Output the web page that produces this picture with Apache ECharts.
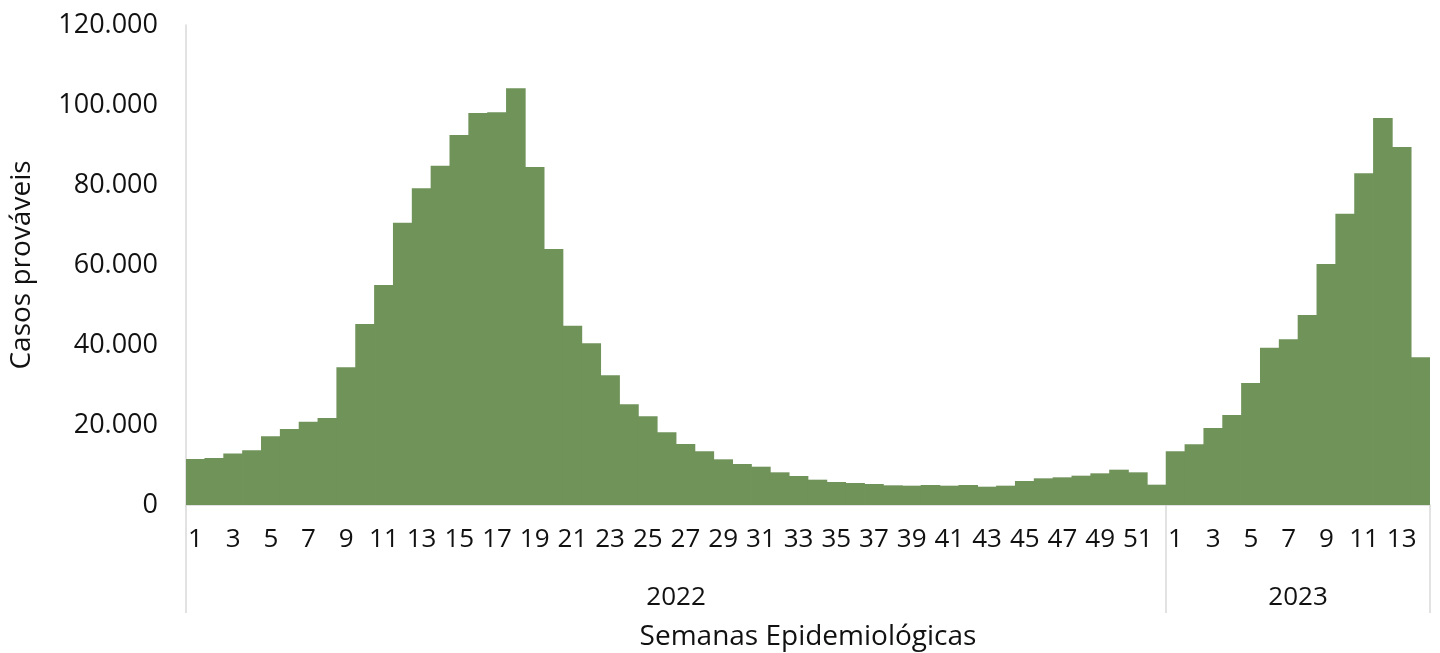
<!DOCTYPE html>
<html>
<head>
<meta charset="utf-8">
<title>Casos prováveis por semana epidemiológica</title>
<script src="https://cdn.jsdelivr.net/npm/echarts@6/dist/echarts.min.js"></script>
<style>
	html, body { margin: 0; padding: 0; background: #fff; }
	#chart { width: 1440px; height: 653px; }
</style>
</head>
<body>
<div id="chart"></div>
<script>
	// anos e número de semanas em cada ano
	var anos = ['2022', '2023'];
	var semanasPorAno = [52, 14];

	// casos prováveis por semana (2022: SE 1-52, 2023: SE 1-14)
	var casos2022 = [
		11500, 11750, 12900, 13670, 17170, 19000, 20830, 21750, 34420, 45250,
		55000, 70580, 79170, 84830, 92500, 98000, 98170, 104170, 84500, 64000,
		44830, 40420, 32420, 25170, 22170, 18170, 15250, 13420, 11420, 10250,
		9580, 8170, 7250, 6330, 5750, 5500, 5250, 4920, 4830, 5000,
		4830, 5000, 4580, 4830, 6000, 6670, 6920, 7330, 7920, 8830,
		8170, 5080
	];
	var casos2023 = [
		13420, 15170, 19250, 22500, 30500, 39330, 41420, 47500, 60250, 72830,
		82920, 96750, 89500, 36920
	];

	var yTicks = [0, 20000, 40000, 60000, 80000, 100000, 120000];

	var semanas = [];
	for (var a = 0; a < anos.length; a++) {
		for (var s = 1; s <= semanasPorAno[a]; s++) {
			semanas.push(String(s));
		}
	}
	var casos = casos2022.concat(casos2023);

	// limites e centros dos grupos de ano (eixo auxiliar)
	var limites = [0], centros = [], acum = 0;
	for (var k = 0; k < semanasPorAno.length; k++) {
		centros.push(acum + semanasPorAno[k] / 2);
		acum += semanasPorAno[k];
		limites.push(acum);
	}

	function milhar(v) {
		return String(v).replace(/\B(?=(\d{3})+(?!\d))/g, '.');
	}

	var fonte = 'Open Sans';
	var corTexto = '#111';
	var corEixo = '#d9d9d9';
	var corBarra = '#70935a';

	var myChart = echarts.init(document.getElementById('chart'));

	var option = {
		animation: false,
		grid: {
			left: 186,
			right: 10,
			top: 25,
			bottom: 148,
			containLabel: false,
			outerBoundsMode: 'none'
		},
		xAxis: [{
			type: 'category',
			data: semanas,
			boundaryGap: true,
			axisLine: { show: true, lineStyle: { color: corEixo, width: 1.5 } },
			axisTick: { show: false },
			axisLabel: {
				interval: 1,
				margin: 22,
				fontFamily: fonte,
				fontSize: 26,
				color: corTexto
			}
		}, {
			type: 'value',
			min: 0,
			max: acum,
			position: 'bottom',
			name: 'Semanas Epidemiológicas',
			nameLocation: 'middle',
			nameGap: 118,
			nameTextStyle: { fontFamily: fonte, fontSize: 28, color: corTexto },
			axisLine: { show: false },
			splitLine: { show: false },
			axisTick: {
				show: true,
				customValues: limites,
				length: 108,
				lineStyle: { color: corEixo, width: 1.5 }
			},
			axisLabel: {
				customValues: centros,
				margin: 80,
				fontFamily: fonte,
				fontSize: 26,
				color: corTexto,
				formatter: function(v) {
					var i = centros.indexOf(v);
					return i >= 0 ? anos[i] : '';
				}
			}
		}],
		yAxis: {
			type: 'value',
			min: yTicks[0],
			max: yTicks[yTicks.length - 1],
			interval: yTicks[1] - yTicks[0],
			name: 'Casos prováveis',
			nameLocation: 'middle',
			nameGap: 150,
			nameTextStyle: { fontFamily: fonte, fontSize: 28, color: corTexto },
			axisLine: { show: true, lineStyle: { color: corEixo, width: 1.5 } },
			axisTick: { show: false },
			splitLine: { show: false },
			axisLabel: {
				margin: 28,
				fontFamily: fonte,
				fontSize: 27,
				color: corTexto,
				formatter: function(v) { return milhar(v); }
			}
		},
		series: [{
			type: 'bar',
			xAxisIndex: 0,
			data: casos,
			barWidth: '104%',
			itemStyle: {
				color: corBarra
			}
		}]
	};

	myChart.setOption(option);
</script>
</body>
</html>
